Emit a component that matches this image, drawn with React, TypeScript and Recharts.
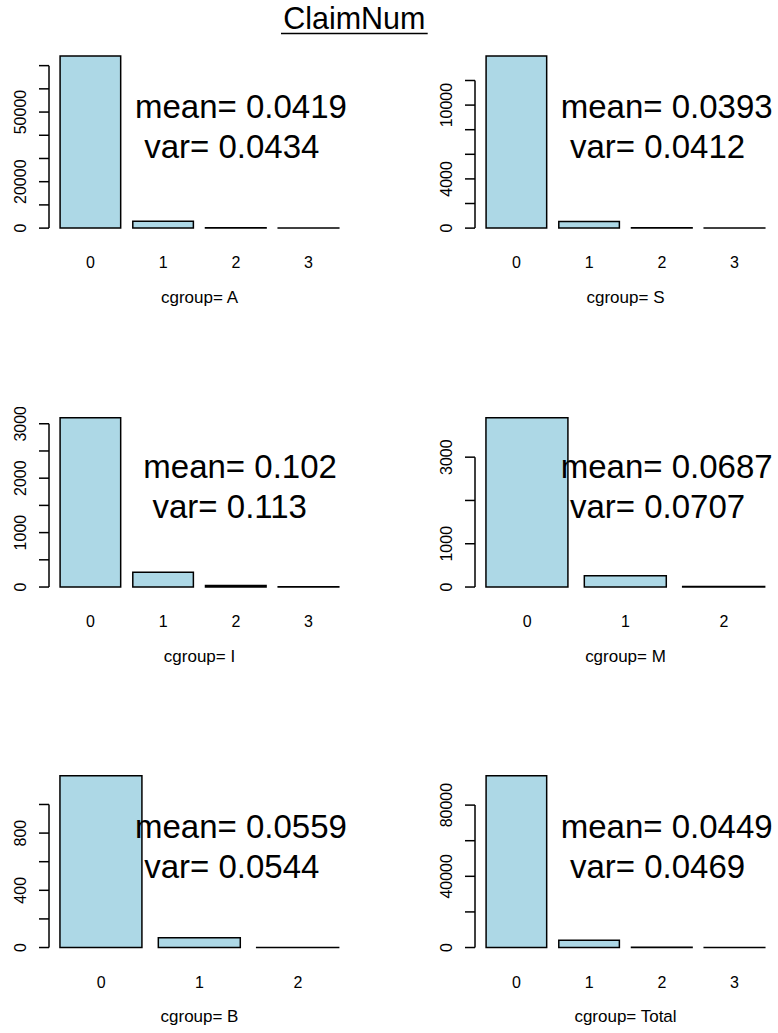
import React from "react"
import { BarChart, Bar, XAxis, YAxis, ReferenceLine, Label } from "recharts"

// categories (number of claims)
const cats4 = ["0", "1", "2", "3"]
const cats3 = ["0", "1", "2"]

// counts per claim number
const countsA = [74200, 3000, 120, 2]
const countsS = [14000, 540, 22, 1]
const countsI = [3110, 270, 30, 4]
const countsM = [3910, 258, 14]
const countsB = [1200, 69, 1]
const countsTotal = [96420, 4137, 187, 7]

// y axis ticks, and which of them carry a label
const ticksA = [0, 10000, 20000, 30000, 40000, 50000, 60000, 70000]
const labelsA = [0, 20000, 50000]
const ticksS = [0, 2000, 4000, 6000, 8000, 10000, 12000]
const labelsS = [0, 4000, 10000]
const ticksI = [0, 500, 1000, 1500, 2000, 2500, 3000]
const labelsI = [0, 1000, 2000, 3000]
const ticksM = [0, 1000, 2000, 3000]
const labelsM = [0, 1000, 3000]
const ticksB = [0, 200, 400, 600, 800, 1000]
const labelsB = [0, 400, 800]
const ticksTotal = [0, 20000, 40000, 60000, 80000]
const labelsTotal = [0, 40000, 80000]

const groups = ["A", "S", "I", "M", "B", "Total"]
const means = ["0.0419", "0.0393", "0.102", "0.0687", "0.0559", "0.0449"]
const variances = ["0.0434", "0.0412", "0.113", "0.0707", "0.0544", "0.0469"]

const FONT = "'Liberation Sans', Arial, Helvetica, sans-serif"
const PLOT_W = 301
const Y_W = 49
const X_H = 75
const TOP_M = 4
const AXIS_FS = 16
const LAB_FS = 17

// plot region of each panel on the page
const layout = [
    { left: 0, plotTop: 49.2, plotH: 186, textX: 135, textY: 118.3 },
    { left: 426, plotTop: 49.2, plotH: 186, textX: 560.7, textY: 118.3 },
    { left: 0, plotTop: 410.5, plotH: 182.8, textX: 143.3, textY: 478.3 },
    { left: 426, plotTop: 410.5, plotH: 182.8, textX: 560.7, textY: 478.3 },
    { left: 0, plotTop: 769.2, plotH: 185.4, textX: 135, textY: 838.3 },
    { left: 426, plotTop: 769.2, plotH: 185.4, textX: 560.7, textY: 838.3 }
]

const panels = [
    { cats: cats4, counts: countsA, ticks: ticksA, labels: labelsA },
    { cats: cats4, counts: countsS, ticks: ticksS, labels: labelsS },
    { cats: cats4, counts: countsI, ticks: ticksI, labels: labelsI },
    { cats: cats3, counts: countsM, ticks: ticksM, labels: labelsM },
    { cats: cats3, counts: countsB, ticks: ticksB, labels: labelsB },
    { cats: cats4, counts: countsTotal, ticks: ticksTotal, labels: labelsTotal }
]

const renderYTick = (props: any, labels: number[]) => {
    const { x, y, payload } = props
    if (!labels.includes(payload.value)) return <g />
    return (
        <text
            x={x}
            y={y}
            transform={`rotate(-90 ${x} ${y})`}
            textAnchor="middle"
            fontSize={AXIS_FS}
            fill="#000"
        >
            {payload.value}
        </text>
    )
}

const Panel = ({ cats, counts, ticks, labels, group, left, plotTop, plotH }: any) => {
    // R barplot layout: width 1, space 0.2, 4% axis expansion
    const k = cats.length
    const span = 1.2 * k - 0.2
    const xlim = [0.2 - 0.04 * span, 1.2 * k + 0.04 * span]
    const unit = PLOT_W / (xlim[1] - xlim[0])
    const data = cats.map((c: string, i: number) => ({ pos: 0.7 + 1.2 * i, n: counts[i], cat: c }))
    const M = Math.max(...counts)
    const ylim = [-0.04 * M, 1.04 * M]
    const topTick = ticks[ticks.length - 1]

    return (
        <div style={{ position: "absolute", left, top: plotTop - TOP_M }}>
            <BarChart
                width={Y_W + PLOT_W + 2}
                height={TOP_M + plotH + X_H}
                data={data}
                margin={{ top: TOP_M, right: 2, bottom: 0, left: 0 }}
            >
                <XAxis
                    type="number"
                    dataKey="pos"
                    domain={xlim}
                    allowDataOverflow
                    ticks={data.map((d: any) => d.pos)}
                    interval={0}
                    tickFormatter={(v: number) => cats[Math.round((v - 0.7) / 1.2)]}
                    axisLine={false}
                    tickLine={false}
                    tickSize={0}
                    tickMargin={22}
                    height={X_H}
                    tick={{ fontSize: AXIS_FS, fill: "#000" }}
                >
                    <Label
                        value={`cgroup= ${group}`}
                        position="insideBottom"
                        offset={7}
                        style={{ fontSize: LAB_FS, fill: "#000" }}
                    />
                </XAxis>
                <YAxis
                    type="number"
                    domain={ylim}
                    allowDataOverflow
                    ticks={ticks}
                    interval={0}
                    width={Y_W}
                    axisLine={false}
                    tickLine={{ stroke: "#000", strokeWidth: 1.5 }}
                    tickSize={10}
                    tickMargin={13}
                    tick={(p: any) => renderYTick(p, labels)}
                />
                <ReferenceLine
                    segment={[{ x: xlim[0], y: 0 }, { x: xlim[0], y: topTick }]}
                    stroke="#000"
                    strokeWidth={1.5}
                    ifOverflow="visible"
                />
                <Bar
                    dataKey="n"
                    fill="#ADD8E6"
                    stroke="#000"
                    strokeWidth={1.5}
                    barSize={unit}
                    isAnimationActive={false}
                />
            </BarChart>
        </div>
    )
}

export default function App() {
    return (
        <div
            style={{
                position: "absolute",
                left: 0,
                top: 0,
                width: 778,
                height: 1033,
                background: "#fff",
                overflow: "hidden",
                fontFamily: FONT
            }}
        >
            {panels.map((p, i) => (
                <Panel key={groups[i]} {...p} group={groups[i]} {...layout[i]} />
            ))}
            <svg
                width={778}
                height={1033}
                style={{ position: "absolute", left: 0, top: 0, pointerEvents: "none" }}
            >
                <text x={354.3} y={29.3} textAnchor="middle" fontSize={30.5} fill="#000">
                    ClaimNum
                </text>
                <line x1={281} x2={427.7} y1={33.5} y2={33.5} stroke="#000" strokeWidth={1.5} />
                {layout.map((l, i) => (
                    <g key={i} fontSize={33} fill="#000">
                        <text x={l.textX} y={l.textY}>{`mean= ${means[i]}`}</text>
                        <text x={l.textX + 9.2} y={l.textY + 40}>{`var= ${variances[i]}`}</text>
                    </g>
                ))}
            </svg>
        </div>
    )
}
